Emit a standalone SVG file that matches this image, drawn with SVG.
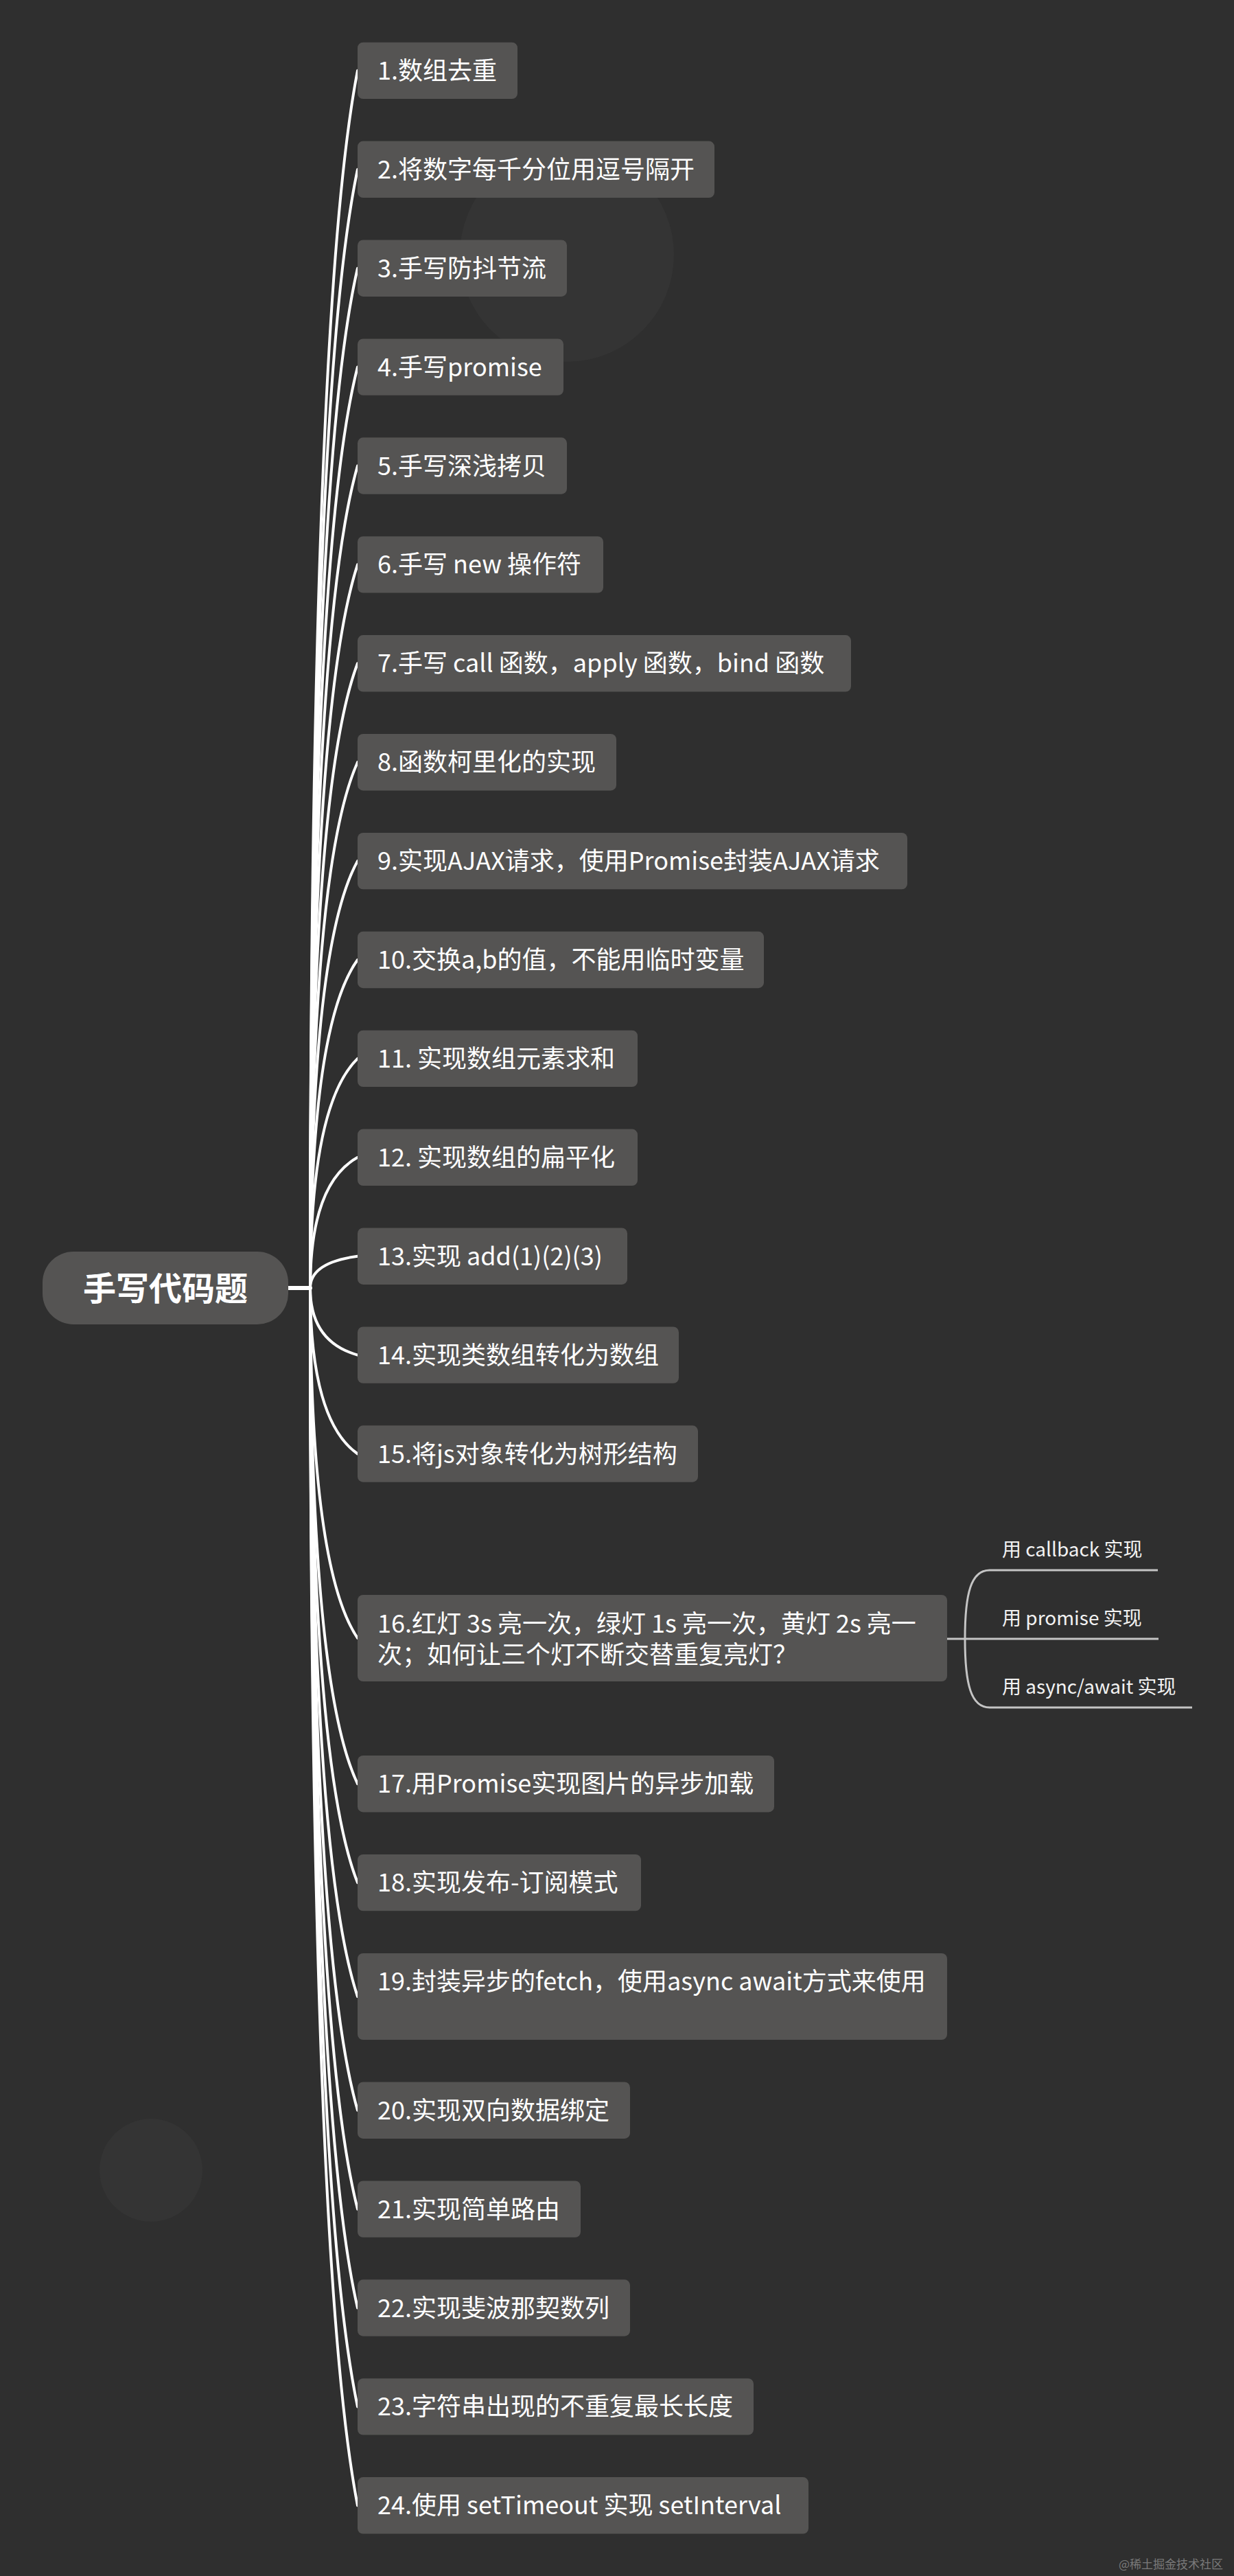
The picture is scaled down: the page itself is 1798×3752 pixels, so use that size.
<svg xmlns="http://www.w3.org/2000/svg" width="1798" height="3752" viewBox="0 0 1798 3752">
<style>
.bg{fill:#2f2f2f}
.deco{fill:#343434}
.node{fill:#555453}
.root{fill:#555453}
.t{font-family:"Noto Sans CJK SC","Noto Sans",sans-serif;font-size:36px;fill:#ffffff}
.rt{font-family:"Noto Sans CJK SC","Noto Sans",sans-serif;font-size:48px;font-weight:bold;fill:#ffffff}
.st{font-family:"Noto Sans CJK SC","Noto Sans",sans-serif;font-size:28px;fill:#f2f2f2}
.wm{font-family:"Noto Sans CJK SC",sans-serif;font-size:17px;fill:#7a7a7a}
.c{fill:none;stroke:#ffffff;stroke-width:4;stroke-linecap:round}
.sc{fill:none;stroke:#c4c4c4;stroke-width:3}
</style>
<rect class="bg" x="0" y="0" width="1798" height="3752"/>
<circle class="deco" cx="826" cy="371" r="156"/>
<circle class="deco" cx="220" cy="3161" r="75"/>
<g id="connectors">
<path class="c" d="M420,1876 H452" style="stroke-width:6"/>
<path class="c" d="M452,1876 Q452,457.5 521,102.9"/>
<path class="c" d="M452,1876 Q452,572.6 521,246.8"/>
<path class="c" d="M452,1876 Q452,687.8 521,390.7"/>
<path class="c" d="M452,1876 Q452,802.9 521,534.6"/>
<path class="c" d="M452,1876 Q452,918 521,678.5"/>
<path class="c" d="M452,1876 Q452,1033.1 521,822.4"/>
<path class="c" d="M452,1876 Q452,1148.2 521,966.3"/>
<path class="c" d="M452,1876 Q452,1263.4 521,1110.2"/>
<path class="c" d="M452,1876 Q452,1378.5 521,1254.1"/>
<path class="c" d="M452,1876 Q452,1493.6 521,1398"/>
<path class="c" d="M452,1876 Q452,1608.7 521,1541.9"/>
<path class="c" d="M452,1876 Q452,1723.8 521,1685.8"/>
<path class="c" d="M452,1876 Q452,1839 521,1829.7"/>
<path class="c" d="M452,1876 Q452,1954.1 521,1973.6"/>
<path class="c" d="M452,1876 Q452,2069.2 521,2117.5"/>
<path class="c" d="M452,1876 Q452,2284 521,2386"/>
<path class="c" d="M452,1876 Q452,2453.8 521,2598.2"/>
<path class="c" d="M452,1876 Q452,2568.9 521,2742.1"/>
<path class="c" d="M452,1876 Q452,2701.6 521,2908"/>
<path class="c" d="M452,1876 Q452,2834.2 521,3073.7"/>
<path class="c" d="M452,1876 Q452,2949.3 521,3217.6"/>
<path class="c" d="M452,1876 Q452,3064.4 521,3361.5"/>
<path class="c" d="M452,1876 Q452,3179.5 521,3505.4"/>
<path class="c" d="M452,1876 Q452,3294.6 521,3649.3"/>
<path class="sc" d="M1380,2387 H1688"/>
<path class="sc" d="M1406,2387 C1406,2320 1415,2287 1442,2287 H1687"/>
<path class="sc" d="M1406,2387 C1406,2454 1415,2487 1442,2487 H1737"/>
</g>
<g id="root"><rect class="root" x="62" y="1823" width="358" height="106" rx="45"/><text class="rt" x="241" y="1894" text-anchor="middle">手写代码题</text></g>
<g id="n1"><rect class="node" x="521" y="61.7" width="233" height="82.4" rx="8"/><text class="t" x="550" y="115.9">1.数组去重</text></g>
<g id="n2"><rect class="node" x="521" y="205.6" width="520" height="82.4" rx="8"/><text class="t" x="550" y="259.8">2.将数字每千分位用逗号隔开</text></g>
<g id="n3"><rect class="node" x="521" y="349.5" width="305" height="82.4" rx="8"/><text class="t" x="550" y="403.7">3.手写防抖节流</text></g>
<g id="n4"><rect class="node" x="521" y="493.4" width="300" height="82.4" rx="8"/><text class="t" x="550" y="547.6">4.手写promise</text></g>
<g id="n5"><rect class="node" x="521" y="637.3" width="305" height="82.4" rx="8"/><text class="t" x="550" y="691.5">5.手写深浅拷贝</text></g>
<g id="n6"><rect class="node" x="521" y="781.2" width="358" height="82.4" rx="8"/><text class="t" x="550" y="835.4">6.手写 new 操作符</text></g>
<g id="n7"><rect class="node" x="521" y="925.1" width="719" height="82.4" rx="8"/><text class="t" x="550" y="979.3">7.手写 call 函数，apply 函数，bind 函数</text></g>
<g id="n8"><rect class="node" x="521" y="1069" width="377" height="82.4" rx="8"/><text class="t" x="550" y="1123.2">8.函数柯里化的实现</text></g>
<g id="n9"><rect class="node" x="521" y="1212.9" width="801" height="82.4" rx="8"/><text class="t" x="550" y="1267.1">9.实现AJAX请求，使用Promise封装AJAX请求</text></g>
<g id="n10"><rect class="node" x="521" y="1356.8" width="592" height="82.4" rx="8"/><text class="t" x="550" y="1411">10.交换a,b的值，不能用临时变量</text></g>
<g id="n11"><rect class="node" x="521" y="1500.7" width="408" height="82.4" rx="8"/><text class="t" x="550" y="1554.9">11. 实现数组元素求和</text></g>
<g id="n12"><rect class="node" x="521" y="1644.6" width="408" height="82.4" rx="8"/><text class="t" x="550" y="1698.8">12. 实现数组的扁平化</text></g>
<g id="n13"><rect class="node" x="521" y="1788.5" width="393" height="82.4" rx="8"/><text class="t" x="550" y="1842.7">13.实现 add(1)(2)(3)</text></g>
<g id="n14"><rect class="node" x="521" y="1932.4" width="468" height="82.4" rx="8"/><text class="t" x="550" y="1986.6">14.实现类数组转化为数组</text></g>
<g id="n15"><rect class="node" x="521" y="2076.3" width="496" height="82.4" rx="8"/><text class="t" x="550" y="2130.5">15.将js对象转化为树形结构</text></g>
<g id="n16"><rect class="node" x="521" y="2323" width="859" height="126" rx="8"/><text class="t" x="550" y="2378">16.红灯 3s 亮一次，绿灯 1s 亮一次，黄灯 2s 亮一</text><text class="t" x="550" y="2423">次；如何让三个灯不断交替重复亮灯？</text></g>
<g id="n16a"><text class="st" x="1460" y="2267">用 callback 实现</text></g>
<g id="n16b"><text class="st" x="1460" y="2367">用 promise 实现</text></g>
<g id="n16c"><text class="st" x="1460" y="2467">用 async/await 实现</text></g>
<g id="n17"><rect class="node" x="521" y="2557" width="607" height="82.4" rx="8"/><text class="t" x="550" y="2611.2">17.用Promise实现图片的异步加载</text></g>
<g id="n18"><rect class="node" x="521" y="2700.9" width="413" height="82.4" rx="8"/><text class="t" x="550" y="2755.1">18.实现发布-订阅模式</text></g>
<g id="n19"><rect class="node" x="521" y="2845" width="859" height="126" rx="8"/><text class="t" x="550" y="2899">19.封装异步的fetch，使用async await方式来使用</text></g>
<g id="n20"><rect class="node" x="521" y="3032.5" width="397" height="82.4" rx="8"/><text class="t" x="550" y="3086.7">20.实现双向数据绑定</text></g>
<g id="n21"><rect class="node" x="521" y="3176.4" width="325" height="82.4" rx="8"/><text class="t" x="550" y="3230.6">21.实现简单路由</text></g>
<g id="n22"><rect class="node" x="521" y="3320.3" width="397" height="82.4" rx="8"/><text class="t" x="550" y="3374.5">22.实现斐波那契数列</text></g>
<g id="n23"><rect class="node" x="521" y="3464.2" width="577" height="82.4" rx="8"/><text class="t" x="550" y="3518.4">23.字符串出现的不重复最长长度</text></g>
<g id="n24"><rect class="node" x="521" y="3608.1" width="657" height="82.4" rx="8"/><text class="t" x="550" y="3662.3">24.使用 setTimeout 实现 setInterval</text></g>
<text class="wm" x="1630" y="3741">@稀土掘金技术社区</text>
</svg>
